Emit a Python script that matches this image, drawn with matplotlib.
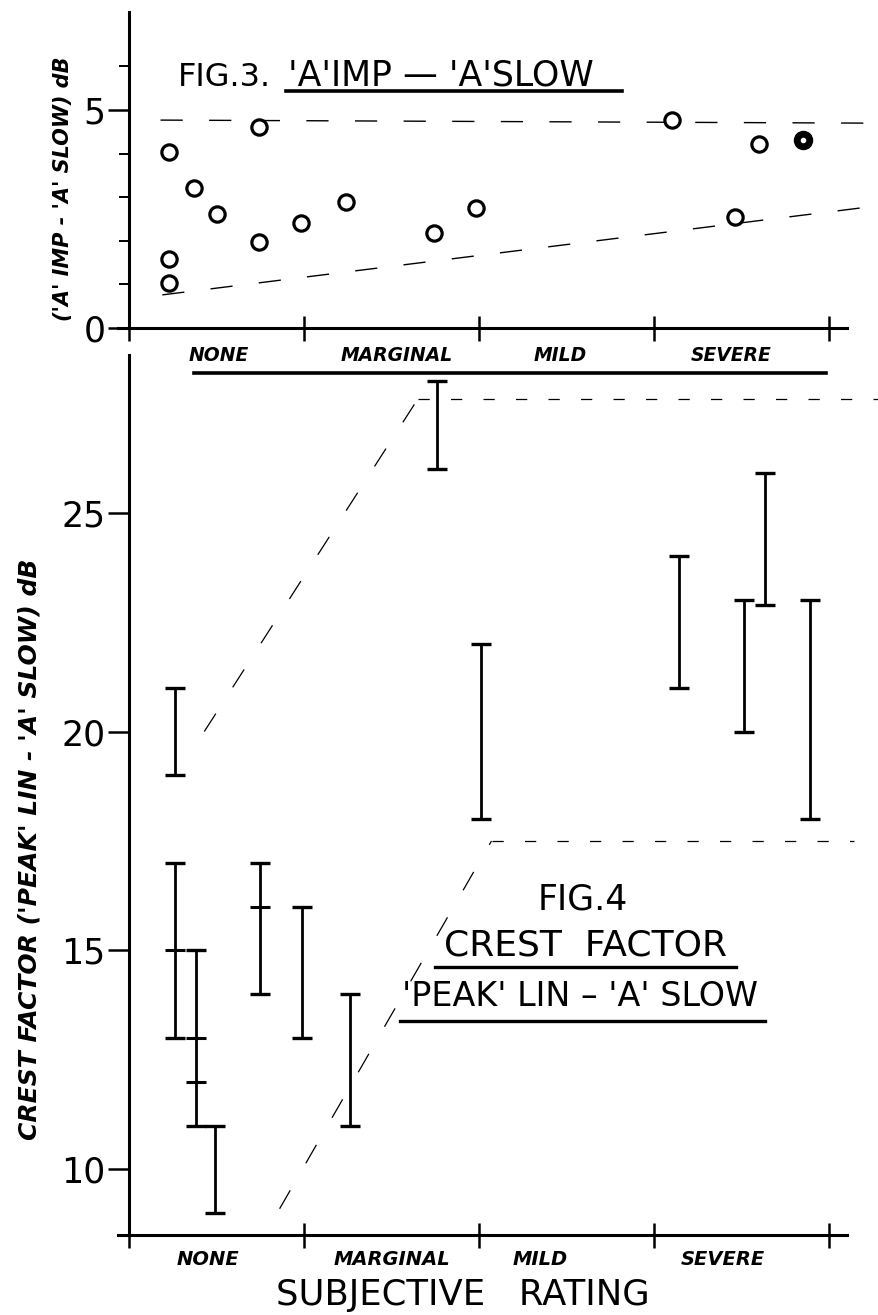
import matplotlib
matplotlib.use("Agg")
import numpy as np
import matplotlib.pyplot as plt
from matplotlib.lines import Line2D

W, H, DPI = 879, 1315, 100

# --- Fig. 3: 'A'IMP - 'A'SLOW (dB) against subjective rating
imp_x = [0.23, 0.23, 0.23, 0.37, 0.50, 0.74, 0.74, 0.98, 1.24, 1.74, 1.98, 3.10, 3.46, 3.60]
imp_y = [4.04, 1.58, 1.03, 3.21, 2.61, 4.61, 1.97, 2.41, 2.89, 2.18, 2.75, 4.77, 2.55, 4.22]
imp_filled_x = [3.85]
imp_filled_y = [4.31]
imp_upper_x = [0.18, 4.24]
imp_upper_y = [4.77, 4.70]
imp_lower_x = [0.19, 4.27]
imp_lower_y = [0.76, 2.80]

# --- Fig. 4: crest factor ('PEAK'LIN - 'A'SLOW) ranges (dB)
crest_x = [0.26, 0.26, 0.38, 0.49, 0.75, 0.99, 1.26, 1.76, 2.01, 3.14, 3.51, 3.63, 3.89]
crest_lo = [19, 13, 11, 9, 14, 13, 11, 26, 18, 21, 20, 22.9, 18]
crest_hi = [21, 17, 15, 11, 17, 16, 14, 28, 22, 24, 23, 25.9, 23]
crest_mark_x = [0.26, 0.38, 0.38, 0.75]
crest_mark_y = [15, 13, 12, 16]
crest_upper_x = [0.43, 1.65, 4.29]
crest_upper_y = [20.0, 27.6, 27.6]
crest_lower_x = [0.86, 2.07, 4.14]
crest_lower_y = [9.1, 17.5, 17.5]

ratings = ["NONE", "MARGINAL", "MILD", "SEVERE"]
rating_bounds = [0, 1, 2, 3, 4]

SANS = "DejaVu Sans"
HAND = dict(family="DejaVu Sans", style="italic", weight="bold")


def fx(px):
    return px / W


def fy(py):
    return 1 - py / H


def box(left, top, right, bottom):
    return [left / W, 1 - bottom / H, (right - left) / W, (bottom - top) / H]


def hline(fig, x0, x1, y, lw=2.4):
    fig.add_artist(Line2D([fx(x0), fx(x1)], [fy(y), fy(y)], color="black", lw=lw))


def style_axes(ax):
    ax.patch.set_visible(False)
    for s in ("top", "right"):
        ax.spines[s].set_visible(False)
    ax.spines["left"].set_position(("data", 0))
    ax.spines["left"].set_linewidth(2.2)
    ax.spines["bottom"].set_linewidth(2.2)
    ax.set_xlim(-0.06, 4.10)
    ax.set_xticks(rating_bounds)
    ax.tick_params(axis="x", which="major", direction="inout", length=18, width=1.8,
                   labelbottom=False)
    ax.tick_params(axis="y", which="major", direction="out", length=15, width=1.8,
                   labelsize=25, pad=2)


fig = plt.figure(figsize=(W / DPI, H / DPI), dpi=DPI)

# ---------------- Fig. 3 ----------------
ax3 = fig.add_axes(box(118.5, 12, 847, 328))
style_axes(ax3)
ax3.set_ylim(0, 7.25)
ax3.set_yticks([0, 5])
ax3.set_yticks([1, 2, 3, 4, 6], minor=True)
ax3.tick_params(axis="y", which="minor", direction="out", length=7, width=1.4)
ax3.set_xticks([0.51, 1.53, 2.46, 3.44], ratings, minor=True)
ax3.tick_params(axis="x", which="minor", length=0, pad=13, labelsize=13.5)
for lab in ax3.get_xticklabels(minor=True):
    lab.set(**HAND)

ax3.plot(imp_upper_x, imp_upper_y, color="black", lw=1.0, ls=(0, (16, 19)), clip_on=False)
ax3.plot(imp_lower_x, imp_lower_y, color="black", lw=1.0, ls=(0, (16, 19)), clip_on=False)
ax3.plot(imp_x, imp_y, ls="none", marker="o", ms=11, mfc="white", mec="black", mew=2.3)
ax3.plot(imp_filled_x, imp_filled_y, ls="none", marker="o", ms=13, mfc="black", mec="black")
ax3.plot(imp_filled_x, imp_filled_y, ls="none", marker="o", ms=3, mfc="white", mec="white")

fig.text(fx(178), fy(86), "FIG.3.", size=23, family=SANS, va="baseline")
fig.text(fx(288), fy(86), "'A'IMP \u2014 'A'SLOW", size=25, family=SANS, va="baseline")
hline(fig, 286, 622, 91, lw=2.6)
hline(fig, 194, 826, 373, lw=2.6)
fig.text(fx(63), fy(189), "('A' IMP - 'A' SLOW) dB", rotation=90, ha="center",
         va="center", size=15, **HAND)

# ---------------- Fig. 4 ----------------
ax4 = fig.add_axes(box(118.5, 355, 847, 1235))
style_axes(ax4)
ax4.set_ylim(8.5, 28.6)
ax4.set_yticks([10, 15, 20, 25])
ax4.set_xticks([0.45, 1.50, 2.35, 3.39], ratings, minor=True)
ax4.tick_params(axis="x", which="minor", length=0, pad=11, labelsize=14)
for lab in ax4.get_xticklabels(minor=True):
    lab.set(**HAND)

lo = np.array(crest_lo)
hi = np.array(crest_hi)
mid = (lo + hi) / 2
ax4.errorbar(crest_x, mid, yerr=[mid - lo, hi - mid], fmt="none", ecolor="black",
             elinewidth=2.0, capsize=7, capthick=2.4)
ax4.plot(crest_mark_x, crest_mark_y, ls="none", marker="_", ms=15, mew=2.2, color="black")

ax4.plot(crest_upper_x[:2], crest_upper_y[:2], color="black", lw=0.9, ls=(0, (17, 25)), clip_on=False)
ax4.plot(crest_upper_x[1:], crest_upper_y[1:], color="black", lw=0.9, ls=(0, (9, 17)), clip_on=False)
ax4.plot(crest_lower_x[:2], crest_lower_y[:2], color="black", lw=0.9, ls=(0, (17, 25)), clip_on=False)
ax4.plot(crest_lower_x[1:], crest_lower_y[1:], color="black", lw=0.9, ls=(0, (9, 17)), clip_on=False)

fig.text(fx(583), fy(899), "FIG.4", size=25, family=SANS, ha="center", va="center")
fig.text(fx(586), fy(946), "CREST  FACTOR", size=26, family=SANS, ha="center", va="center")
hline(fig, 435, 736, 967)
fig.text(fx(580), fy(996), "'PEAK' LIN \u2013 'A' SLOW", size=24, family=SANS, ha="center",
         va="center")
hline(fig, 400, 765, 1021)
fig.text(fx(30), fy(849), "CREST FACTOR ('PEAK' LIN - 'A' SLOW) dB", rotation=90,
         ha="center", va="center", size=18, **HAND)
fig.text(fx(463), fy(1295), "SUBJECTIVE   RATING", size=25.5, family=SANS, ha="center",
         va="center")

fig.savefig("out.png", dpi=DPI)
